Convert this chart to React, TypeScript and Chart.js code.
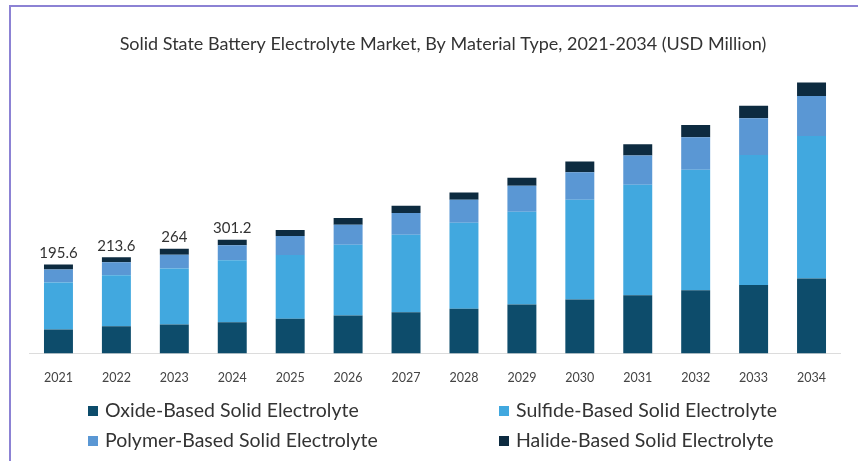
import React, { useEffect, useRef } from 'react';
import { Chart, registerables } from 'chart.js';
Chart.register(...registerables);

const titleText = 'Solid State Battery Electrolyte Market, By Material Type, 2021-2034 (USD Million)';
const years = ['2021', '2022', '2023', '2024', '2025', '2026', '2027', '2028', '2029', '2030', '2031', '2032', '2033', '2034'];
const oxide = [52.8, 60, 63.8, 68.9, 76.3, 83.6, 90.9, 98.3, 107.8, 118.8, 128.3, 139.3, 151.1, 165];
const sulfide = [103.4, 112.2, 123.2, 136.4, 140.8, 156.2, 170.9, 189.9, 204.6, 220, 243.5, 265.5, 286.7, 314.6];
const polymer = [28.6, 28.6, 30.8, 33, 41.8, 44, 47.7, 50.6, 57.2, 60.9, 64.5, 71.9, 80.7, 88];
const halide = [11, 11, 13.2, 12.5, 13.2, 14.7, 16, 16, 17.6, 23.3, 25.1, 27.1, 27.7, 30.1];
const totalLabels = ['195.6', '213.6', '264', '301.2', '', '', '', '', '', '', '', '', '', ''];
const seriesNames = ['Oxide-Based Solid Electrolyte', 'Sulfide-Based Solid Electrolyte', 'Polymer-Based Solid Electrolyte', 'Halide-Based Solid Electrolyte'];
const seriesColors = ['#0d4c6b', '#41a8df', '#5a97d4', '#0d2b40'];

const FONT = 'Lato, "Open Sans", sans-serif';

const decorPlugin = {
  id: 'decor',
  afterDraw(chart: any) {
    const ctx = chart.ctx as CanvasRenderingContext2D;
    ctx.save();
    // title
    ctx.fillStyle = '#333';
    ctx.font = `18px ${FONT}`;
    ctx.textAlign = 'center';
    ctx.textBaseline = 'middle';
    ctx.fillText(titleText, 443, 44);
    // totals
    const lastMeta = chart.getDatasetMeta(chart.data.datasets.length - 1);
    ctx.font = `15px ${FONT}`;
    ctx.textBaseline = 'bottom';
    lastMeta.data.forEach((bar: any, i: number) => {
      if (totalLabels[i]) ctx.fillText(totalLabels[i], bar.x, bar.y - 4);
    });
    // legend 2x2
    ctx.font = `19.5px ${FONT}`;
    ctx.textAlign = 'left';
    ctx.textBaseline = 'middle';
    const colX = [88, 499];
    const rowY = [411, 441];
    chart.data.datasets.forEach((ds: any, i: number) => {
      const x = colX[i % 2];
      const y = rowY[Math.floor(i / 2)];
      ctx.fillStyle = ds.backgroundColor;
      ctx.fillRect(x, y - 5, 10, 10);
      ctx.fillStyle = '#333';
      ctx.fillText(ds.label, x + 17, y);
    });
    ctx.restore();
  },
};

export default function App() {
  const ref = useRef<HTMLCanvasElement>(null);
  useEffect(() => {
    const values = [oxide, sulfide, polymer, halide];
    const chart = new Chart(ref.current!, {
      type: 'bar',
      data: {
        labels: years,
        datasets: values.map((v, i) => ({
          label: seriesNames[i],
          data: v,
          backgroundColor: seriesColors[i],
          borderWidth: 0,
          categoryPercentage: 1,
          barPercentage: 0.5,
        })),
      },
      options: {
        responsive: false,
        animation: false,
        layout: { padding: { left: 29.5, right: 17.5, top: 70, bottom: 58.6 } },
        plugins: { legend: { display: false }, title: { display: false }, tooltip: { enabled: false } },
        scales: {
          x: {
            stacked: true,
            grid: { display: false, drawTicks: false },
            border: { display: true, color: '#dcdcdc', width: 1 },
            ticks: { color: '#444', font: { family: FONT, size: 12.5 }, padding: 17 },
          },
          y: { stacked: true, display: false, min: 0, max: 625 },
        },
      },
      plugins: [decorPlugin],
    });
    return () => chart.destroy();
  }, []);
  return (
    <div style={{ position: 'fixed', left: 0, top: 0, width: 858, height: 461, background: '#fff' }}>
      <div style={{ position: 'absolute', left: 9, top: 5, right: 0, bottom: 0, borderTop: '2px solid #8c82d4', borderLeft: '2px solid #8c82d4' }} />
      <canvas ref={ref} width={858} height={461} style={{ position: 'absolute', left: 0, top: 0, width: 858, height: 461 }} />
    </div>
  );
}
